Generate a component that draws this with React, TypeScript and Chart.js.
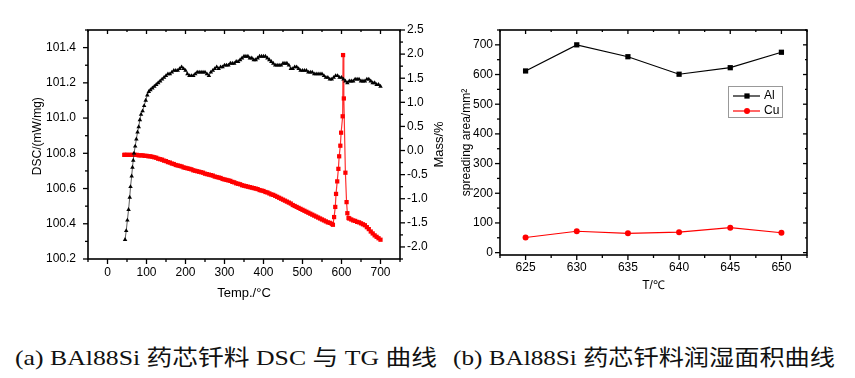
import React, { useEffect, useLayoutEffect, useRef } from 'react';
import { Chart, registerables } from 'chart.js';

Chart.register(...registerables);

const FONT = "'Liberation Sans', Arial, Helvetica, sans-serif";
const CAPTION_FONT = "'Liberation Serif', 'Times New Roman', 'Noto Sans CJK SC', serif";

// ---------- (a) DSC / TG ----------
const DSC_TEMP = [
  45, 48, 51, 54, 57, 59, 62, 64, 66, 68, 71, 74, 77, 80, 83, 86, 90, 94, 98, 102, 106, 110,
  115, 120, 125, 130, 135, 140, 145, 150, 155, 160, 165, 170, 175, 180, 185, 190, 195, 200,
  205, 210, 215, 220, 225, 230, 235, 240, 245, 250, 255, 260, 265, 270, 275, 280, 285, 290,
  295, 300, 305, 310, 315, 320, 325, 330, 335, 340, 345, 350, 355, 360, 365, 370, 375, 380,
  385, 390, 395, 400, 405, 410, 415, 420, 425, 430, 435, 440, 445, 450, 455, 460, 465, 470,
  475, 480, 485, 490, 495, 500, 505, 510, 515, 520, 525, 530, 535, 540, 545, 550, 555, 560,
  565, 570, 575, 580, 585, 590, 595, 600, 605, 610, 615, 620, 625, 630, 635, 640, 645, 650,
  655, 660, 665, 670, 675, 680, 685, 690, 695, 700,
];
const DSC_VALUE = [
  100.31, 100.36, 100.42, 100.48, 100.55, 100.61, 100.67, 100.72, 100.76, 100.8, 100.84, 100.88,
  100.92, 100.95, 100.99, 101.02, 101.04, 101.07, 101.1, 101.13, 101.15, 101.16,
  101.17, 101.18, 101.19, 101.2, 101.21, 101.22, 101.23, 101.24, 101.25, 101.25, 101.26, 101.27,
  101.27, 101.27, 101.28, 101.29, 101.28, 101.27, 101.25, 101.24, 101.24, 101.24, 101.25, 101.26,
  101.26, 101.26, 101.26, 101.26, 101.25, 101.24, 101.26, 101.27, 101.28, 101.29, 101.28, 101.29,
  101.29, 101.3, 101.3, 101.3, 101.31, 101.31, 101.31, 101.32, 101.32, 101.33, 101.34, 101.35,
  101.35, 101.35, 101.34, 101.34, 101.33, 101.33, 101.34, 101.35, 101.35, 101.35, 101.35, 101.34,
  101.33, 101.32, 101.31, 101.3, 101.3, 101.3, 101.3, 101.31, 101.31, 101.31, 101.3, 101.28,
  101.28, 101.29, 101.29, 101.28, 101.27, 101.27, 101.27, 101.27, 101.26, 101.26, 101.26, 101.25,
  101.25, 101.25, 101.25, 101.25, 101.24, 101.23, 101.23, 101.22, 101.22, 101.23, 101.24, 101.24,
  101.23, 101.23, 101.22, 101.21, 101.2, 101.21, 101.21, 101.21, 101.22, 101.22, 101.22, 101.21,
  101.21, 101.21, 101.22, 101.22, 101.21, 101.2, 101.2, 101.19, 101.19, 101.18,
];
const TG_TEMP = [
  43, 45, 50, 55, 60, 65, 70, 75, 80, 85, 90, 95, 100, 105, 110, 115, 120, 125, 130, 135, 140,
  145, 150, 155, 160, 165, 170, 175, 180, 185, 190, 195, 200, 205, 210, 215, 220, 225, 230, 235,
  240, 245, 250, 255, 260, 265, 270, 275, 280, 285, 290, 295, 300, 305, 310, 315, 320, 325, 330,
  335, 340, 345, 350, 355, 360, 365, 370, 375, 380, 385, 390, 395, 400, 405, 410, 415, 420, 425,
  430, 435, 440, 445, 450, 455, 460, 465, 470, 475, 480, 485, 490, 495, 500, 505, 510, 515, 520,
  525, 530, 535, 540, 545, 550, 555, 560, 565, 570, 575, 578,
  581, 584, 586, 589, 592, 594, 597, 599, 603, 604, 606, 610, 613, 615, 618,
  620, 625, 630, 635, 640, 645, 650, 655, 660, 665, 670, 675, 680, 685, 690, 695, 700,
];
const TG_VALUE = [
  -0.09, -0.09, -0.09, -0.09, -0.09, -0.09, -0.09, -0.09, -0.1, -0.1, -0.1, -0.11, -0.11, -0.12,
  -0.12, -0.13, -0.14, -0.15, -0.17, -0.18, -0.19, -0.21, -0.22, -0.24, -0.25, -0.27, -0.28,
  -0.3, -0.31, -0.32, -0.33, -0.35, -0.36, -0.37, -0.38, -0.39, -0.41, -0.42, -0.43, -0.44,
  -0.45, -0.46, -0.48, -0.49, -0.5, -0.51, -0.52, -0.54, -0.55, -0.56, -0.57, -0.59, -0.6,
  -0.61, -0.62, -0.63, -0.65, -0.66, -0.68, -0.69, -0.7, -0.72, -0.73, -0.74, -0.75, -0.76,
  -0.77, -0.78, -0.79, -0.8, -0.82, -0.83, -0.84, -0.86, -0.87, -0.89, -0.91, -0.92, -0.94,
  -0.96, -0.98, -1.0, -1.02, -1.04, -1.06, -1.08, -1.1, -1.13, -1.15, -1.17, -1.19, -1.21,
  -1.23, -1.25, -1.27, -1.29, -1.31, -1.33, -1.35, -1.37, -1.39, -1.41, -1.43, -1.45, -1.47,
  -1.49, -1.5, -1.52, -1.54,
  -1.38, -1.17, -0.9, -0.64, -0.38, -0.12, 0.1, 0.37, 0.71, 1.98, 1.08, -0.46, -1.07, -1.3, -1.4,
  -1.41, -1.43, -1.45, -1.46, -1.48, -1.49, -1.51, -1.53, -1.55, -1.59, -1.63, -1.68, -1.72,
  -1.76, -1.79, -1.82, -1.85,
];
const A_X_TICKS = [0, 100, 200, 300, 400, 500, 600, 700];
const A_DSC_TICKS = [100.2, 100.4, 100.6, 100.8, 101.0, 101.2, 101.4];
const A_MASS_TICKS = [-2.0, -1.5, -1.0, -0.5, 0.0, 0.5, 1.0, 1.5, 2.0, 2.5];

// ---------- (b) spreading area ----------
const B_TEMP = [625, 630, 635, 640, 645, 650];
const B_AL = [612, 700, 660, 601, 623, 675];
const B_CU = [51, 72, 65, 69, 84, 67];
const B_Y_TICKS = [0, 100, 200, 300, 400, 500, 600, 700];

const CAPTION_A = '(a) BAl88Si 药芯钎料 DSC 与 TG 曲线';
const CAPTION_B = '(b) BAl88Si 药芯钎料润湿面积曲线';

const fixedTicks = (values: number[]) => (scale: any) => {
  scale.ticks = values.map((v) => ({ value: v }));
};

const framePlugin = {
  id: 'originFrame',
  afterDraw(chart: any, _args: any, opts: any) {
    const { ctx, chartArea: a } = chart;
    ctx.save();
    ctx.strokeStyle = '#000';
    ctx.lineWidth = 1.6;
    ctx.strokeRect(a.left, a.top, a.right - a.left, a.bottom - a.top);
    ctx.lineWidth = 1.3;
    for (const spec of opts.edges || []) {
      const scale = chart.scales[spec.id];
      if (!scale) continue;
      const major = scale.ticks.map((t: any) => t.value);
      const step = major.length > 1 ? major[1] - major[0] : 0;
      const minor: number[] = [];
      if (step) {
        for (const v of major) {
          for (const m of [v - step / 2, v + step / 2]) {
            if (m >= scale.min - 1e-9 && m <= scale.max + 1e-9 && !minor.some((x) => Math.abs(x - m) < 1e-9)) minor.push(m);
          }
        }
      }
      const dir = spec.out ? 1 : -1;
      const drawSet = (vals: number[], len: number) => {
        for (const v of vals) {
          const p = scale.getPixelForValue(v);
          ctx.beginPath();
          if (spec.edge === 'bottom') { ctx.moveTo(p, a.bottom); ctx.lineTo(p, a.bottom + dir * len); }
          else if (spec.edge === 'top') { ctx.moveTo(p, a.top); ctx.lineTo(p, a.top - dir * len); }
          else if (spec.edge === 'left') { ctx.moveTo(a.left, p); ctx.lineTo(a.left - dir * len, p); }
          else { ctx.moveTo(a.right, p); ctx.lineTo(a.right + dir * len, p); }
          ctx.stroke();
        }
      };
      drawSet(major, spec.out ? 5 : 4);
      drawSet(minor, spec.out ? 3 : 2);
    }
    // upward-reading title for a right-hand axis (Origin style)
    if (opts.rightTitle) {
      const s = chart.scales[opts.rightTitle.id];
      if (s) {
        ctx.save();
        ctx.translate(s.right - opts.rightTitle.offset, (a.top + a.bottom) / 2);
        ctx.rotate(-Math.PI / 2);
        ctx.fillStyle = '#000';
        ctx.font = `13px ${FONT}`;
        ctx.textAlign = 'center';
        ctx.textBaseline = 'middle';
        ctx.fillText(opts.rightTitle.text, 0, 0);
        ctx.restore();
      }
    }
    ctx.restore();
  },
};

const legendBoxPlugin = {
  id: 'legendBox',
  afterDraw(chart: any, _args: any, opts: any) {
    if (!opts || !opts.show) return;
    const { ctx, chartArea: a } = chart;
    const x = Math.round(a.left + opts.dx);
    const y = Math.round(a.top + opts.dy);
    ctx.save();
    ctx.fillStyle = '#fff';
    ctx.fillRect(x, y, opts.w, opts.h);
    ctx.strokeStyle = '#999';
    ctx.lineWidth = 1;
    ctx.strokeRect(x + 0.5, y + 0.5, opts.w, opts.h);
    chart.data.datasets.forEach((ds: any, i: number) => {
      const cy = y + opts.firstRow + i * opts.rowGap;
      ctx.strokeStyle = ds.borderColor;
      ctx.lineWidth = ds.borderWidth;
      ctx.beginPath();
      ctx.moveTo(x + 5, cy);
      ctx.lineTo(x + 32, cy);
      ctx.stroke();
      ctx.fillStyle = ds.pointBackgroundColor;
      const mx = x + 19;
      if (ds.pointStyle === 'rect') {
        const s = ds.pointRadius * Math.SQRT1_2;
        ctx.fillRect(mx - s, cy - s, 2 * s, 2 * s);
      } else {
        ctx.beginPath();
        ctx.arc(mx, cy, ds.pointRadius, 0, Math.PI * 2);
        ctx.fill();
      }
      ctx.fillStyle = '#000';
      ctx.font = `12px ${FONT}`;
      ctx.textBaseline = 'middle';
      ctx.textAlign = 'left';
      ctx.fillText(ds.label, x + 36, cy);
    });
    ctx.restore();
  },
};

const tickFont = { family: FONT, size: 12 };
const baseAxis = {
  type: 'linear',
  grid: { display: false, drawTicks: false },
  border: { display: false },
};

function makeConfigA(): any {
  return {
    type: 'scatter',
    data: {
      datasets: [
        {
          label: 'DSC',
          data: DSC_TEMP.map((t, i) => ({ x: t, y: DSC_VALUE[i] })),
          yAxisID: 'y',
          showLine: true,
          borderColor: '#333',
          borderWidth: 0.8,
          pointStyle: 'triangle',
          pointRadius: 2.6,
          pointBackgroundColor: '#000',
          pointBorderColor: '#000',
          pointBorderWidth: 0,
        },
        {
          label: 'TG',
          data: TG_TEMP.map((t, i) => ({ x: t, y: TG_VALUE[i] })),
          yAxisID: 'y1',
          showLine: true,
          borderColor: '#ff3030',
          borderWidth: 1.2,
          pointStyle: 'rect',
          pointRadius: 3,
          pointBackgroundColor: '#ff0000',
          pointBorderColor: '#ff0000',
          pointBorderWidth: 0,
        },
      ],
    },
    options: {
      responsive: false,
      animation: false,
      devicePixelRatio: 1,
      layout: { padding: { top: 30, left: 0, right: 0, bottom: 0 } },
      plugins: {
        legend: { display: false },
        tooltip: { enabled: false },
        originFrame: {
          edges: [
            { id: 'x', edge: 'bottom', out: true },
            { id: 'x', edge: 'top', out: false },
            { id: 'y', edge: 'left', out: true },
            { id: 'y1', edge: 'right', out: true },
          ],
          rightTitle: { id: 'y1', text: 'Mass/%', offset: 21 },
        },
      },
      scales: {
        x: {
          ...baseAxis,
          position: 'bottom',
          min: -50,
          max: 750,
          afterBuildTicks: fixedTicks(A_X_TICKS),
          afterFit: (s: any) => { s.height = 51; },
          ticks: { padding: 6, color: '#000', font: tickFont, maxRotation: 0, autoSkip: false, callback: (v: any) => String(Math.round(v)) },
          title: { display: true, text: 'Temp./°C', color: '#000', font: { family: FONT, size: 13 }, padding: { top: 0, bottom: 9 } },
        },
        y: {
          ...baseAxis,
          position: 'left',
          min: 100.2,
          max: 101.5,
          afterBuildTicks: fixedTicks(A_DSC_TICKS),
          afterFit: (s: any) => { s.width = 88; },
          ticks: { padding: 12, color: '#000', font: tickFont, autoSkip: false, callback: (v: any) => Number(v).toFixed(1) },
          title: { display: true, text: '     DSC/(mW/mg)', color: '#000', font: { family: FONT, size: 12 }, padding: { top: 30, bottom: 0 } },
        },
        y1: {
          ...baseAxis,
          position: 'right',
          min: -2.25,
          max: 2.5,
          afterBuildTicks: fixedTicks(A_MASS_TICKS),
          afterFit: (s: any) => { s.width = 60; },
          ticks: { padding: 7, color: '#000', font: tickFont, autoSkip: false, callback: (v: any) => Number(v).toFixed(1) },
          title: { display: false },
        },
      },
    },
    plugins: [framePlugin],
  };
}

function makeConfigB(): any {
  return {
    type: 'scatter',
    data: {
      datasets: [
        {
          label: 'Al',
          data: B_TEMP.map((t, i) => ({ x: t, y: B_AL[i] })),
          showLine: true,
          borderColor: '#000',
          borderWidth: 1.2,
          pointStyle: 'rect',
          pointRadius: 3.7,
          pointBackgroundColor: '#000',
          pointBorderColor: '#000',
          pointBorderWidth: 0,
        },
        {
          label: 'Cu',
          data: B_TEMP.map((t, i) => ({ x: t, y: B_CU[i] })),
          showLine: true,
          borderColor: '#ff0000',
          borderWidth: 1.2,
          pointStyle: 'circle',
          pointRadius: 3,
          pointBackgroundColor: '#ff0000',
          pointBorderColor: '#ff0000',
          pointBorderWidth: 0,
        },
      ],
    },
    options: {
      responsive: false,
      animation: false,
      devicePixelRatio: 1,
      layout: { padding: { top: 30, left: 0, right: 48, bottom: 0 } },
      plugins: {
        legend: { display: false },
        tooltip: { enabled: false },
        originFrame: {
          edges: [
            { id: 'x', edge: 'bottom', out: true },
            { id: 'x', edge: 'top', out: false },
            { id: 'y', edge: 'left', out: true },
            { id: 'y', edge: 'right', out: false },
          ],
        },
        legendBox: { show: true, dx: 228, dy: 56, w: 54, h: 31, firstRow: 10, rowGap: 15 },
      },
      scales: {
        x: {
          ...baseAxis,
          position: 'bottom',
          min: 622.5,
          max: 652.5,
          afterBuildTicks: fixedTicks(B_TEMP),
          afterFit: (s: any) => { s.height = 55; },
          ticks: { padding: 5, color: '#000', font: tickFont, maxRotation: 0, autoSkip: false, callback: (v: any) => String(Math.round(v)) },
          title: { display: true, text: 'T/℃', color: '#000', font: { family: FONT, size: 12 }, padding: { top: 0, bottom: 17 } },
        },
        y: {
          ...baseAxis,
          position: 'left',
          min: -8,
          max: 750,
          afterBuildTicks: fixedTicks(B_Y_TICKS),
          afterFit: (s: any) => { s.width = 70; },
          ticks: { padding: 7, color: '#000', font: tickFont, autoSkip: false, callback: (v: any) => String(Math.round(v)) },
          title: { display: true, text: 'spreading area/mm²', color: '#000', font: { family: FONT, size: 12 }, padding: { top: 29, bottom: 0 } },
        },
      },
    },
    plugins: [framePlugin, legendBoxPlugin],
  };
}

export default function App() {
  const aRef = useRef<HTMLCanvasElement>(null);
  const bRef = useRef<HTMLCanvasElement>(null);
  const capA = useRef<HTMLSpanElement>(null);
  const capB = useRef<HTMLSpanElement>(null);

  useEffect(() => {
    const ca = new Chart(aRef.current as HTMLCanvasElement, makeConfigA());
    const cb = new Chart(bRef.current as HTMLCanvasElement, makeConfigB());
    return () => {
      ca.destroy();
      cb.destroy();
    };
  }, []);

  useLayoutEffect(() => {
    const fit = () => {
      const pairs: [HTMLSpanElement | null, number][] = [[capA.current, 422], [capB.current, 382]];
      for (const [el, target] of pairs) {
        if (!el) continue;
        el.style.transform = 'none';
        const w = el.getBoundingClientRect().width;
        if (w > 0) el.style.transform = `scaleX(${target / w})`;
      }
    };
    fit();
    if ((document as any).fonts && (document as any).fonts.ready) (document as any).fonts.ready.then(fit);
  }, []);

  const capStyle: React.CSSProperties = {
    position: 'absolute',
    top: 345,
    fontFamily: CAPTION_FONT,
    fontSize: 22,
    lineHeight: '26px',
    whiteSpace: 'pre',
    color: '#111',
    display: 'inline-block',
    transformOrigin: 'left center',
  };

  return (
    <div style={{ position: 'absolute', left: 0, top: 0, width: 855, height: 378, background: '#fff', overflow: 'hidden' }}>
      <canvas ref={aRef} width={460} height={310} style={{ position: 'absolute', left: 0, top: 0, width: 460, height: 310 }} />
      <canvas ref={bRef} width={425} height={310} style={{ position: 'absolute', left: 430, top: 0, width: 425, height: 310 }} />
      <span ref={capA} style={{ ...capStyle, left: 15 }}>{CAPTION_A}</span>
      <span ref={capB} style={{ ...capStyle, left: 453 }}>{CAPTION_B}</span>
    </div>
  );
}
